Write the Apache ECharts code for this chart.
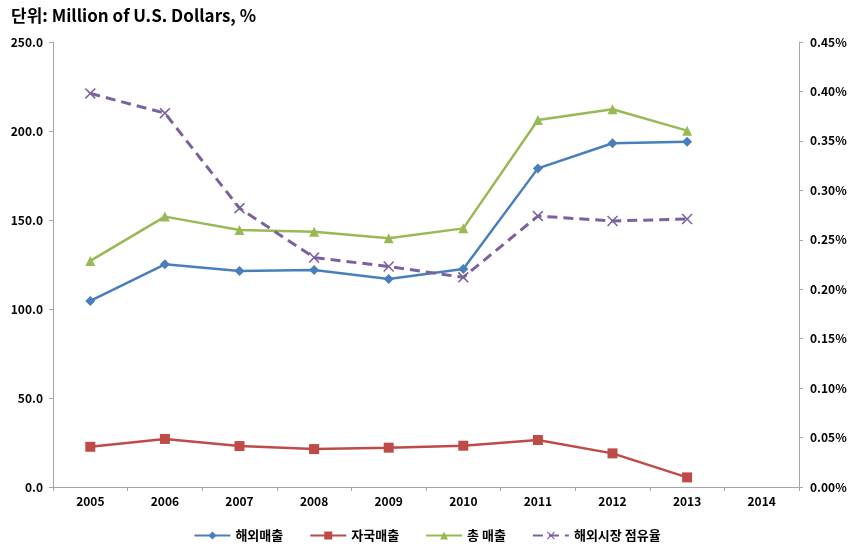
<!DOCTYPE html>
<html>
<head>
<meta charset="utf-8">
<script src="https://cdn.jsdelivr.net/npm/echarts@6/dist/echarts.min.js"></script>
<style>
  html, body { margin: 0; padding: 0; background: #fff; }
  #chart { width: 854px; height: 553px; }
</style>
</head>
<body>
<div id="chart"></div>
<script>
// 연도
var years = ['2005', '2006', '2007', '2008', '2009', '2010', '2011', '2012', '2013', '2014'];
// 해외매출 / 자국매출 / 총 매출 (Million USD)
var overseasSales = [104.5, 125.1, 121.3, 121.9, 116.9, 122.5, 179.0, 193.1, 194.0, null];
var domesticSales = [22.6, 27.0, 23.0, 21.3, 22.1, 23.2, 26.4, 18.9, 5.4, null];
var totalSales = [127.0, 151.9, 144.4, 143.4, 139.7, 145.3, 206.2, 212.2, 200.2, null];
// 해외시장 점유율 (%)
var marketShare = [0.398, 0.378, 0.282, 0.232, 0.223, 0.212, 0.274, 0.269, 0.271, null];

var font = '"Noto Sans CJK KR", "Noto Sans", sans-serif';
var crossPath = 'path://M0,1 L1,0 L5,4 L9,0 L10,1 L6,5 L10,9 L9,10 L5,6 L1,10 L0,9 L4,5 Z';

var myChart = echarts.init(document.getElementById('chart'));
var option = {
    textStyle: { fontFamily: font },
    title: {
        text: '단위: Million of U.S. Dollars, %',
        left: 6,
        top: 2,
        textStyle: { fontFamily: font, fontSize: 17, fontWeight: 'bold', color: '#000' }
    },
    legend: {
        bottom: 6,
        itemWidth: 36,
        itemHeight: 10,
        itemGap: 26,
        textStyle: { fontFamily: font, fontSize: 13, fontWeight: 'bold', color: '#000' },
        data: ['해외매출', '자국매출', '총 매출', '해외시장 점유율']
    },
    grid: { left: 53, right: 55, top: 42, bottom: 66 },
    xAxis: {
        type: 'category',
        data: years,
        axisLine: { lineStyle: { color: '#a6a6a6' } },
        axisTick: { show: true, length: 4, lineStyle: { color: '#a6a6a6' } },
        axisLabel: { color: '#000', fontWeight: 'bold', fontSize: 12, margin: 8 }
    },
    yAxis: [{
        type: 'value',
        min: 0, max: 250, interval: 50,
        splitLine: { show: false },
        axisLine: { show: true, lineStyle: { color: '#a6a6a6' } },
        axisTick: { show: true, length: 4, lineStyle: { color: '#a6a6a6' } },
        axisLabel: {
            color: '#000', fontWeight: 'bold', fontSize: 12, margin: 10,
            formatter: function (v) { return v.toFixed(1); }
        }
    }, {
        type: 'value',
        min: 0, max: 0.45, interval: 0.05,
        splitLine: { show: false },
        axisLine: { show: true, lineStyle: { color: '#a6a6a6' } },
        axisTick: { show: true, length: 4, lineStyle: { color: '#a6a6a6' } },
        axisLabel: {
            color: '#000', fontWeight: 'bold', fontSize: 12, margin: 11,
            formatter: function (v) { return v.toFixed(2) + '%'; }
        }
    }],
    series: [{
        name: '해외매출',
        type: 'line',
        data: overseasSales,
        symbol: 'diamond',
        symbolSize: 10,
        color: '#4a7ebb',
        lineStyle: { width: 2.5 }
    }, {
        name: '자국매출',
        type: 'line',
        data: domesticSales,
        symbol: 'rect',
        symbolSize: 10,
        color: '#be4b48',
        lineStyle: { width: 2.5 }
    }, {
        name: '총 매출',
        type: 'line',
        data: totalSales,
        symbol: 'triangle',
        symbolSize: 10,
        color: '#98b954',
        lineStyle: { width: 2.5 }
    }, {
        name: '해외시장 점유율',
        type: 'line',
        yAxisIndex: 1,
        data: marketShare,
        symbol: crossPath,
        symbolSize: 11,
        color: '#7d60a0',
        lineStyle: { width: 3, type: [10, 6] }
    }]
};
myChart.setOption(option);
</script>
</body>
</html>
